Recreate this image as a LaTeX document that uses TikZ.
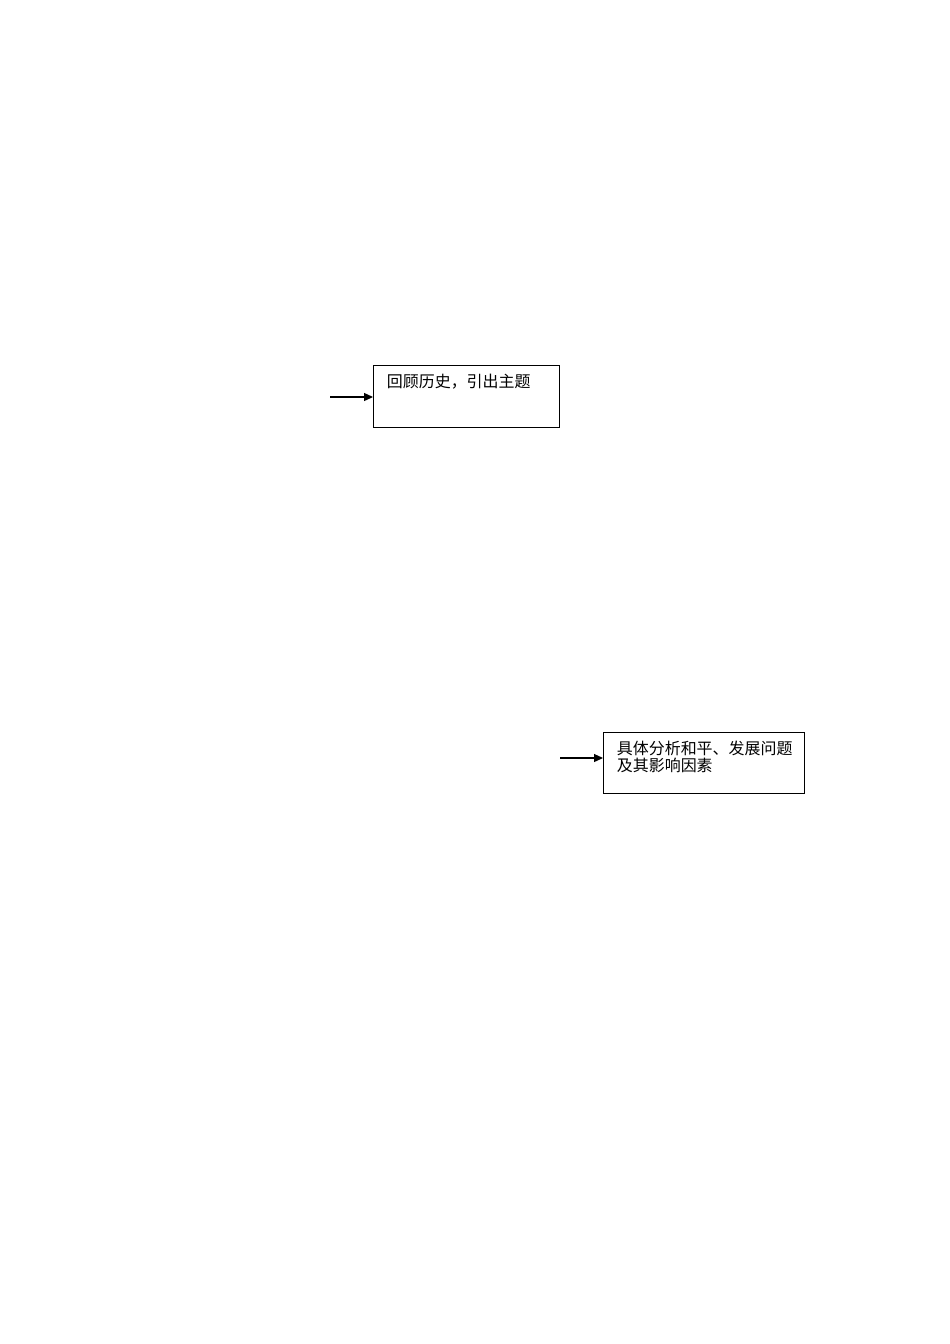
\documentclass[tikz,border=0pt]{standalone}
\usepackage{fontspec}
\newfontfamily\cjk{Noto Sans CJK SC}
\usetikzlibrary{positioning,shapes,arrows.meta}

\begin{document}
\begin{tikzpicture}[x=0.6266pt, y=-0.6266pt,
		stage/.style={draw, rectangle, anchor=north west, line width=0.65pt, inner xsep=8.4pt, inner ysep=5.5pt, font=\cjk\fontsize{10pt}{10.7pt}\selectfont},
		feed/.style={-{Triangle[length=5.6pt, width=5pt]}, line width=0.7pt}]
		\useasboundingbox (0, 0) rectangle (950, 1344);
		\node[stage] (review) at (373, 365) {\parbox[c][27.8pt][t]{100pt}{\raggedright 回顾历史，引出主题}};
		\node[stage] (analyse) at (603, 732) {\parbox[c][27.1pt][t]{109pt}{\raggedright 具体分析和平、发展问题\\及其影响因素}};
		\coordinate (in1) at (330, 397);
		\coordinate (in2) at (560, 758);
		\draw[feed] (in1) -- (review.west |- in1);
		\draw[feed] (in2) -- (analyse.west |- in2);
	\end{tikzpicture}
\end{document}
